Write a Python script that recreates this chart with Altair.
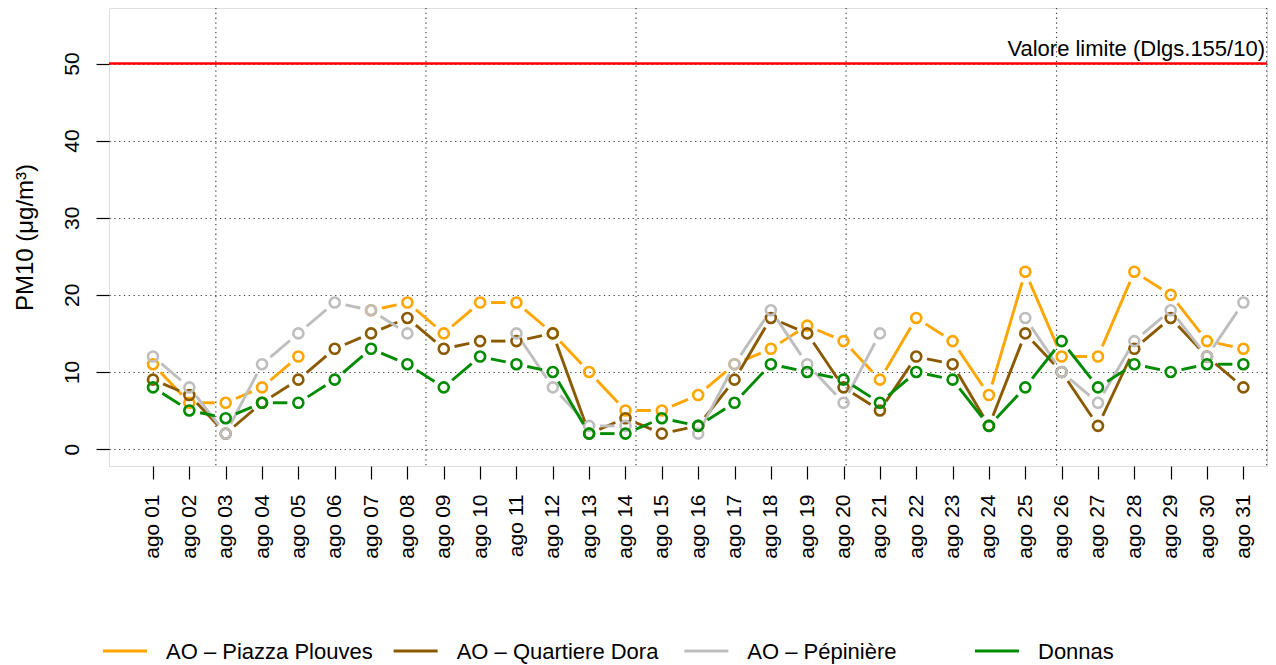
import math
import altair as alt
import pandas as pd

# ---------------- data ----------------
days = list(range(1, 32))
day_labels = [f"ago {d:02d}" for d in days]

series_names = ["AO – Piazza Plouves", "AO – Quartiere Dora", "AO – Pépinière", "Donnas"]
series_colors = ["#FFA500", "#8B5A00", "#BEBEBE", "#008B00"]

plouves = [11, 6, 6, 8, 12, None, 18, 19, 15, 19, 19, 15, 10, 5, 5, 7, 11, 13, 16, 14,
           9, 17, 14, 7, 23, 12, 12, 23, 20, 14, 13]
dora = [9, 7, 2, 6, 9, 13, 15, 17, 13, 14, 14, 15, 2, 4, 2, 3, 9, 17, 15, 8,
        5, 12, 11, 3, 15, 10, 3, 13, 17, 12, 8]
pepiniere = [12, 8, 2, 11, 15, 19, 18, 15, None, None, 15, 8, 3, 3, None, 2, 11, 18, 11, 6,
             15, None, None, None, 17, 10, 6, 14, 18, 12, 19]
donnas = [8, 5, 4, 6, 6, 9, 13, 11, 8, 12, 11, 10, 2, 2, 4, 3, 6, 11, 10, 9,
          6, 10, 9, 3, 8, 14, 8, 11, 10, 11, 11]

limit_value = 50
limit_label = "Valore limite (Dlgs.155/10)"
y_ticks = [0, 10, 20, 30, 40, 50]

# ---------------- layout / style ----------------
W, H = 1158, 458
XDOM = [-0.21, 31.65]
YDOM = [-2.2, 57.2]
SX = W / (XDOM[1] - XDOM[0])
SY = H / (YDOM[1] - YDOM[0])
GAP = 11.0          # gap left around each point (type="b" style), px
FONT = "Liberation Sans"
grid_x = [2.73, 8.51, 14.29, 20.07, 25.86, 31.64]

xscale = alt.Scale(domain=XDOM, nice=False, zero=False)
yscale = alt.Scale(domain=YDOM, nice=False, zero=False)

label_expr = "[" + ",".join(f"'{s}'" for s in day_labels) + "][datum.value - 1]"

X_AX = alt.Axis(values=days, labelExpr=label_expr, labelAngle=-90, labelAlign="right",
                labelBaseline="middle", labelFontSize=21, labelFont=FONT, labelColor="black",
                tickSize=13, tickColor="black", tickWidth=1.2, labelPadding=15,
                domain=False, grid=False, title=None, labelOverlap=False, labelFlush=False)
Y_AX = alt.Axis(values=y_ticks, labelAngle=-90, labelAlign="center", labelBaseline="alphabetic",
                labelFontSize=21, labelFont=FONT, labelColor="black",
                tickSize=13, tickColor="black", tickWidth=1.2, labelPadding=18,
                grid=True, gridColor="#444444", gridDash=[1.3, 3.5], gridWidth=1.2,
                domain=False, labelFlush=False,
                title="PM10 (μg/m³)", titleFontSize=24, titleFont=FONT, titleFontWeight="normal",
                titleColor="black", titleX=-77, titleY=H / 2, titleAngle=270,
                titleBaseline="alphabetic", titleAlign="center")


def segments(vals):
    rows = []
    for i in range(len(vals) - 1):
        a, b = vals[i], vals[i + 1]
        if a is None or b is None:
            continue
        x1, x2 = days[i], days[i + 1]
        dx = (x2 - x1) * SX
        dy = (b - a) * SY
        L = math.hypot(dx, dy)
        if L <= 2 * GAP:
            continue
        ux, uy = dx / L, dy / L
        rows.append(dict(x=x1 + GAP * ux / SX, y=a + GAP * uy / SY,
                         x2=x2 - GAP * ux / SX, y2=b - GAP * uy / SY))
    return pd.DataFrame(rows)


def points(vals):
    return pd.DataFrame([dict(x=d, y=v) for d, v in zip(days, vals) if v is not None])


layers = []

# vertical dotted grid
gdf = pd.DataFrame({"gx": grid_x})
layers.append(alt.Chart(gdf).mark_rule(color="#444444", strokeDash=[1.3, 3.5], strokeWidth=1.2)
              .encode(x=alt.X("gx:Q", scale=xscale, axis=X_AX)))

# limit line + label
ldf = pd.DataFrame({"v": [limit_value], "label": [limit_label]})
layers.append(alt.Chart(ldf).mark_rule(color="#FF0000", strokeWidth=2.5)
              .encode(y=alt.Y("v:Q", scale=yscale, axis=Y_AX)))
layers.append(alt.Chart(ldf).mark_text(align="right", baseline="alphabetic", dy=-8,
                                       fontSize=22, font=FONT, color="black")
              .encode(x=alt.value(W - 2), y=alt.Y("v:Q", scale=yscale, axis=Y_AX), text="label:N"))

for vals, col in zip([plouves, dora, pepiniere, donnas], series_colors):
    sdf = segments(vals)
    layers.append(alt.Chart(sdf).mark_rule(color=col, strokeWidth=2.9)
                  .encode(x=alt.X("x:Q", scale=xscale, axis=X_AX),
                          y=alt.Y("y:Q", scale=yscale, axis=Y_AX),
                          x2="x2:Q", y2="y2:Q"))
    pdf = points(vals)
    layers.append(alt.Chart(pdf).mark_point(shape="circle", filled=False, size=100,
                                            strokeWidth=2.6, color=col, opacity=1)
                  .encode(x=alt.X("x:Q", scale=xscale, axis=X_AX),
                          y=alt.Y("y:Q", scale=yscale, axis=Y_AX)))

main = alt.layer(*layers)

# manual legend below the plot
legdf = pd.DataFrame({"name": series_names})
leg_x = alt.X("name:N", sort=series_names, axis=None,
              scale=alt.Scale(type="point", domain=series_names, range=[16, 888], padding=0))
leg_color = alt.Color("name:N", scale=alt.Scale(domain=series_names, range=series_colors), legend=None)
leg_sym = alt.Chart(legdf).mark_point(shape="stroke", size=44 * 44, strokeWidth=3.2, filled=False,
                                      opacity=1).encode(x=leg_x, y=alt.value(643), color=leg_color)
leg_txt = alt.Chart(legdf).mark_text(align="left", baseline="alphabetic", dx=41, dy=8,
                                     fontSize=22, font=FONT, color="black"
                                     ).encode(x=leg_x, y=alt.value(643), text="name:N")
legend = alt.layer(leg_sym, leg_txt)

chart = (alt.layer(main, legend)
         .resolve_scale(x="independent")
         .properties(width=W, height=H,
                     padding={"left": 101, "top": 0, "right": 1, "bottom": 199},
                     autosize=alt.AutoSizeParams(type="none"))
         .configure_view(stroke="black", strokeWidth=1.3)
         .configure(background="white"))

chart.save("out.html", embed_options={"renderer": "svg", "actions": False})
